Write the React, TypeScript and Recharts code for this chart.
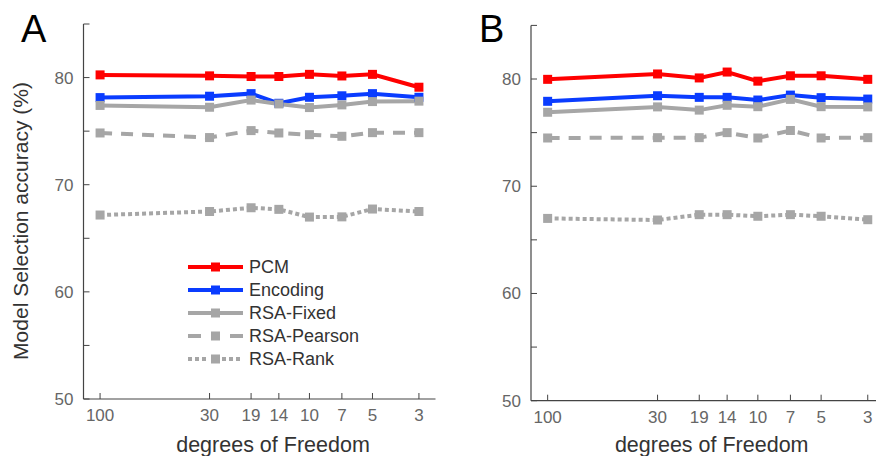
import React from "react";
import { LineChart, Line, XAxis, YAxis } from "recharts";

const dfValues = [100, 30, 19, 14, 10, 7, 5, 3];
const yTicks = [50, 55, 60, 65, 70, 75, 80, 85];

const seriesNames = ["PCM", "Encoding", "RSA-Fixed", "RSA-Pearson", "RSA-Rank"];
const seriesColors = ["#ff0000", "#0a3cff", "#a6a6a6", "#a6a6a6", "#a6a6a6"];
const seriesDash = ["", "", "", "12 9", "4 3"];

// Panel A values (%)
const pcmA = [80.25, 80.16, 80.1, 80.1, 80.3, 80.15, 80.3, 79.1];
const encodingA = [78.13, 78.26, 78.5, 77.6, 78.16, 78.3, 78.5, 78.16];
const fixedA = [77.4, 77.23, 77.9, 77.54, 77.2, 77.45, 77.76, 77.8];
const pearsonA = [74.83, 74.4, 75.05, 74.83, 74.67, 74.52, 74.86, 74.86];
const rankA = [67.17, 67.5, 67.85, 67.7, 66.98, 67.0, 67.73, 67.5];

// Panel B values (%)
const pcmB = [79.97, 80.47, 80.1, 80.65, 79.8, 80.3, 80.3, 79.97];
const encodingB = [77.92, 78.44, 78.29, 78.29, 78.04, 78.5, 78.26, 78.13];
const fixedB = [76.9, 77.4, 77.1, 77.55, 77.42, 78.1, 77.42, 77.4];
const pearsonB = [74.5, 74.53, 74.53, 75.0, 74.5, 75.2, 74.5, 74.53];
const rankB = [67.0, 66.85, 67.35, 67.35, 67.2, 67.35, 67.2, 66.88];

const keys = ["pcm", "enc", "fixed", "pearson", "rank"];

function buildRows(cols: number[][]) {
  return dfValues.map((df, i) => {
    const row: any = { df };
    keys.forEach((k, j) => (row[k] = cols[j][i]));
    return row;
  });
}

const dataA = buildRows([pcmA, encodingA, fixedA, pearsonA, rankA]);
const dataB = buildRows([pcmB, encodingB, fixedB, pearsonB, rankB]);

const FONT = "'Liberation Sans', Arial, Helvetica, sans-serif";
const AXIS = "#444444";
const TICKTXT = "#666666";

const XTick = (props: any) => {
  const { x, y, payload } = props;
  return (
    <g>
      <line x1={x} y1={y} x2={x} y2={y - 6} stroke={AXIS} strokeWidth={1} />
      <text x={x} y={y + 22} textAnchor="middle" fontSize={17} fill={TICKTXT} fontFamily={FONT}>
        {payload.value}
      </text>
    </g>
  );
};

const YTick = (props: any) => {
  const { x, y, payload } = props;
  const v = payload.value;
  return (
    <g>
      <line x1={x} y1={y} x2={x + 6} y2={y} stroke={AXIS} strokeWidth={1} />
      {v % 10 === 0 ? (
        <text x={x - 10} y={y + 6} textAnchor="end" fontSize={17} fill={TICKTXT} fontFamily={FONT}>
          {v}
        </text>
      ) : null}
    </g>
  );
};

const makeDot = (color: string) => (props: any) => {
  const { cx, cy, index } = props;
  if (cx == null || cy == null) return <g key={index} />;
  return <rect key={index} x={cx - 4.5} y={cy - 4.5} width={9} height={9} fill={color} />;
};

const LegendBox = () => {
  const rowsY = [267, 290, 313, 336, 359];
  return (
    <g>
      {seriesNames.map((name, i) => {
        const cy = rowsY[i];
        const c = seriesColors[i];
        let lineEl: any;
        if (i === 3) {
          lineEl = (
            <g>
              <line x1={188} y1={cy} x2={201} y2={cy} stroke={c} strokeWidth={4} />
              <line x1={230} y1={cy} x2={243} y2={cy} stroke={c} strokeWidth={4} />
            </g>
          );
        } else if (i === 4) {
          lineEl = (
            <g>
              <line x1={188} y1={cy} x2={209} y2={cy} stroke={c} strokeWidth={4} strokeDasharray="4 3" />
              <line x1={222} y1={cy} x2={243} y2={cy} stroke={c} strokeWidth={4} strokeDasharray="4 3" />
            </g>
          );
        } else {
          lineEl = <line x1={188} y1={cy} x2={243} y2={cy} stroke={c} strokeWidth={4} />;
        }
        return (
          <g key={name}>
            {lineEl}
            <rect x={211} y={cy - 4.5} width={9} height={9} fill={c} />
            <text x={249} y={cy + 6} fontSize={18} fill="#333333" fontFamily={FONT}>
              {name}
            </text>
          </g>
        );
      })}
    </g>
  );
};

type PanelProps = {
  data: any[];
  width: number;
  margin: any;
  yAxisWidth: number;
  letter: string;
  letterX: number;
  showLegend: boolean;
  yLabel: boolean;
  xLabelX: number;
};

const Panel = ({ data, width, margin, yAxisWidth, letter, letterX, showLegend, yLabel, xLabelX }: PanelProps) => (
  <LineChart width={width} height={456} data={data} margin={margin}>
    <XAxis
      dataKey="df"
      type="number"
      scale="log"
      domain={[2.5, 120]}
      reversed
      ticks={dfValues}
      interval={0}
      tick={<XTick />}
      tickLine={false}
      tickSize={0}
      tickMargin={0}
      axisLine={{ stroke: AXIS, strokeWidth: 1.2 }}
      height={margin.bottomAxis}
      allowDataOverflow
    />
    <YAxis
      type="number"
      domain={[50, 85]}
      ticks={yTicks}
      interval={0}
      tick={<YTick />}
      tickLine={false}
      tickSize={0}
      tickMargin={0}
      axisLine={{ stroke: AXIS, strokeWidth: 1.2 }}
      width={yAxisWidth}
      allowDataOverflow
    />
    {keys.map((k, i) => (
      <Line
        key={k}
        dataKey={k}
        name={seriesNames[i]}
        type="linear"
        stroke={seriesColors[i]}
        strokeWidth={4}
        strokeDasharray={seriesDash[i] || undefined}
        dot={makeDot(seriesColors[i])}
        activeDot={false}
        isAnimationActive={false}
      />
    ))}
    <text x={letterX} y={42} fontSize={38} fill="#000000" fontFamily={FONT}>
      {letter}
    </text>
    {yLabel ? (
      <text
        x={28}
        y={221}
        transform="rotate(-90, 28, 221)"
        textAnchor="middle"
        fontSize={21}
        fill="#333333"
        fontFamily={FONT}
      >
        Model Selection accuracy (%)
      </text>
    ) : null}
    <text x={xLabelX} y={452} textAnchor="middle" fontSize={21.5} fill="#333333" fontFamily={FONT}>
      degrees of Freedom
    </text>
    {showLegend ? <LegendBox /> : null}
  </LineChart>
);

export default function App() {
  return (
    <div
      style={{
        position: "absolute",
        left: 0,
        top: 0,
        width: 876,
        height: 456,
        overflow: "hidden",
        background: "#ffffff",
      }}
    >
      <div style={{ position: "absolute", left: 0, top: 0 }}>
        <Panel
          data={dataA}
          width={438}
          margin={{ top: 24, right: 2.5, left: 0, bottom: 0, bottomAxis: 57 }}
          yAxisWidth={83.5}
          letter="A"
          letterX={21}
          showLegend={true}
          yLabel={true}
          xLabelX={273}
        />
      </div>
      <div style={{ position: "absolute", left: 438, top: 0 }}>
        <Panel
          data={dataB}
          width={450}
          margin={{ top: 25.4, right: 3.6, left: 0, bottom: 0, bottomAxis: 55.3 }}
          yAxisWidth={93}
          letter="B"
          letterX={41}
          showLegend={false}
          yLabel={false}
          xLabelX={273.7}
        />
      </div>
    </div>
  );
}
